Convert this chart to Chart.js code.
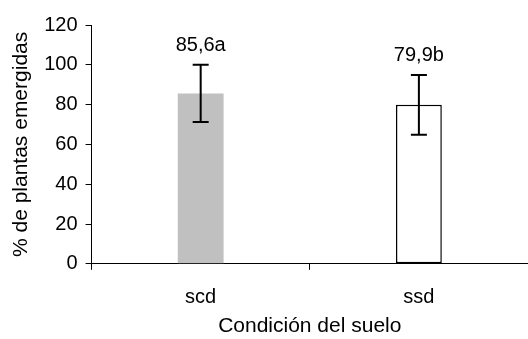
<!DOCTYPE html>
<html>
<head>
<meta charset="utf-8">
<script src="https://cdn.jsdelivr.net/npm/chart.js@4"></script>
<style>
  body { margin: 0; background: #fff; }
  #wrap { width: 528px; height: 339px; }
</style>
</head>
<body>
<div id="wrap"><canvas id="chart"></canvas></div>
<script>
const categories = ['scd', 'ssd'];
const emergence = [85.6, 79.9];
const errors = [14.4, 15];
const letters = ['85,6a', '79,9b'];
const yTicks = [0, 20, 40, 60, 80, 100, 120];

const FONT = "'Liberation Sans', Arial, sans-serif";

// error bars + value labels on top of each bar
const errorBarPlugin = {
    id: 'errorBars',
    afterDatasetsDraw(chart) {
        const ctx = chart.ctx;
        const meta = chart.getDatasetMeta(0);
        const y = chart.scales.y;
        ctx.save();
        ctx.strokeStyle = '#000';
        ctx.lineWidth = 2;
        meta.data.forEach((bar, i) => {
            const top = y.getPixelForValue(emergence[i] + errors[i]);
            const bottom = y.getPixelForValue(emergence[i] - errors[i]);
            const x = bar.x;
            ctx.beginPath();
            ctx.moveTo(x, top); ctx.lineTo(x, bottom);
            ctx.moveTo(x - 8, top); ctx.lineTo(x + 8, top);
            ctx.moveTo(x - 8, bottom); ctx.lineTo(x + 8, bottom);
            ctx.stroke();
            ctx.fillStyle = '#000';
            ctx.font = '20px ' + FONT;
            ctx.textAlign = 'center';
            ctx.textBaseline = 'middle';
            ctx.fillText(letters[i], x, top - 19);
        });
        ctx.restore();
    }
};

new Chart(document.getElementById('chart'), {
    type: 'bar',
    data: {
        labels: categories,
        datasets: [{
            data: emergence,
            backgroundColor: ['#c0c0c0', '#ffffff'],
            borderColor: ['#c0c0c0', '#000000'],
            borderWidth: [0, 1.5],
            borderSkipped: false,
            categoryPercentage: 1,
            barPercentage: 0.21
        }]
    },
    options: {
        responsive: true,
        maintainAspectRatio: false,
        animation: false,
        layout: { padding: { top: 25, right: 0, left: 9, bottom: 0 } },
        plugins: {
            legend: { display: false },
            tooltip: { enabled: false }
        },
        scales: {
            y: {
                min: 0,
                max: 120,
                afterBuildTicks: (axis) => { axis.ticks = yTicks.map(v => ({ value: v })); },
                grid: { drawOnChartArea: false, drawTicks: true, tickLength: 6, color: '#000' },
                border: { display: true, color: '#000', width: 1 },
                ticks: { color: '#000', font: { family: FONT, size: 20 }, padding: 8 },
                title: {
                    display: true,
                    text: '% de plantas emergidas',
                    color: '#000',
                    font: { family: FONT, size: 21 },
                    padding: { top: 0, bottom: 2 }
                }
            },
            x: {
                grid: { drawOnChartArea: false, drawTicks: true, tickLength: 6, color: '#000', offset: true },
                border: { display: true, color: '#000', width: 1 },
                ticks: { color: '#000', font: { family: FONT, size: 20 }, padding: 16 },
                title: {
                    display: true,
                    text: 'Condición del suelo',
                    color: '#000',
                    font: { family: FONT, size: 21 },
                    padding: { top: -12, bottom: 0 }
                }
            }
        }
    },
    plugins: [errorBarPlugin]
});
</script>
</body>
</html>
